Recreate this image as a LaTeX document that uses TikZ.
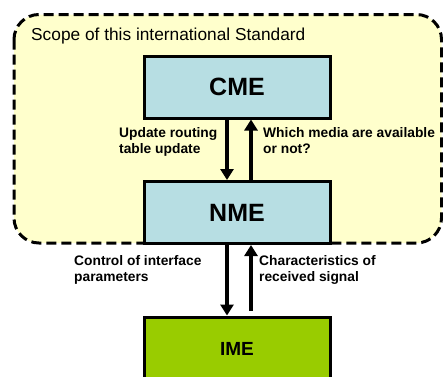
\documentclass[tikz,border=0pt]{standalone}
\usepackage{fontspec}
\setmainfont{Liberation Sans}
\usetikzlibrary{arrows.meta}
\definecolor{scopeyellow}{HTML}{FFFFCC}
\definecolor{meblue}{HTML}{B7DEE3}
\definecolor{megreen}{HTML}{99CC00}
\tikzset{
scopebox/.style={draw=black, fill=scopeyellow, line width=3pt, dash pattern=on 10pt off 5pt, rounded corners=25pt},
bluebox/.style={rectangle, draw=black, fill=meblue, line width=3pt, inner sep=0pt, minimum width=186pt, minimum height=62pt, font=\fontsize{25}{30}\selectfont\bfseries},
greenbox/.style={rectangle, draw=black, fill=megreen, line width=3pt, inner sep=0pt, minimum width=186pt, minimum height=64pt, font=\fontsize{19}{23}\selectfont\bfseries},
flowarrow/.style={line width=4pt, -{Triangle[width=13pt,length=11pt]}},
flowlabel/.style={anchor=base west, align=left, inner sep=0pt, font=\fontsize{13.8}{15.5}\selectfont\bfseries},
}
\begin{document}
\begin{tikzpicture}[x=1pt,y=-1pt]
\useasboundingbox (0,0) rectangle (443,376);
\path[scopebox] (14,14.5) rectangle (441.5,243);
\node[anchor=base west, inner sep=0pt, font=\fontsize{17.3}{20}\selectfont] (scopelabel) at (31,40) {Scope of this international Standard};

\node[bluebox] at (237,87) (CME) {CME};
\node[bluebox] at (237,212.5) (NME) {NME};
\node[greenbox] at (237,349) (IME) {IME};

\draw[flowarrow] ([xshift=-10pt]CME.south) -- ([xshift=-10pt]NME.north);
\draw[flowarrow] ([xshift=14pt]NME.north) -- ([xshift=14pt]CME.south);
\draw[flowarrow] ([xshift=-10pt]NME.south) -- ([xshift=-10pt]IME.north);
\draw[flowarrow, shorten <=5pt] ([xshift=14pt]IME.north) -- ([xshift=14pt]NME.south);

\node[flowlabel] at (119,153) (routinglabel) {Update routing\\table update};
\node[flowlabel] at (263,153) (medialabel) {Which media are available\\or not?};
\node[flowlabel] at (74,281) (controllabel) {Control of interface\\parameters};
\node[flowlabel] at (259,281) (signallabel) {Characteristics of\\received signal};
\end{tikzpicture}
\end{document}
